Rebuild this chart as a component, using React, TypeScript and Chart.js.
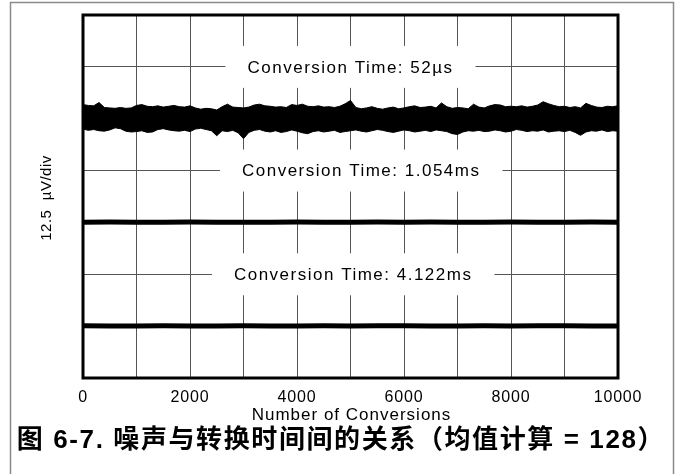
import React, { useEffect, useRef } from 'react';
import { Chart, registerables } from 'chart.js';

Chart.register(...registerables);

// ---- axes ----
const X_MIN = 0;
const X_MAX = 10000;
const X_STEP = 1000;
const X_TICK_LABELS = [0, 2000, 4000, 6000, 8000, 10000];
const X_TITLE = 'Number of Conversions';
const Y_MIN = 0;
const Y_MAX = 87.5;
const Y_STEP = 12.5;
const Y_TITLE = '12.5  µV/div';
const CAPTION = '图 6-7. 噪声与转换时间间的关系（均值计算 = 128）';

// ---- traces (µV) ----
const TRACE_LEVELS = [62.5, 37.5, 12.5];
const TRACE_LABELS = ['Conversion Time: 52µs', 'Conversion Time: 1.054ms', 'Conversion Time: 4.122ms'];
const LABEL_LEVELS = [75, 50, 25];
const LABEL_CENTERS = [5000, 5200, 5050];

// 52µs trace: upper / lower envelope deviations, one value every 100 conversions
const TOP_SAMPLE_STEP = 100;
const TOP_UPPER = [
  3.4, 3.2, 3.1, 3.9, 2.7, 2.6, 2.5, 2.7, 2.5, 2.6,
  3.2, 3.4, 3.0, 2.9, 3.1, 2.8, 3.0, 3.2, 2.9, 2.8,
  3.1, 2.6, 2.3, 2.5, 2.4, 2.1, 2.9, 3.5, 2.8, 2.7,
  2.6, 2.8, 3.3, 3.5, 3.1, 3.0, 2.8, 2.9, 2.7, 3.4,
  3.2, 3.5, 3.0, 2.9, 3.1, 2.8, 2.9, 2.7, 3.0, 3.6,
  4.4, 2.7, 2.4, 2.6, 2.9, 2.5, 2.3, 2.6, 2.8, 2.4,
  2.6, 2.9, 3.1, 2.7, 2.8, 3.0, 2.6, 3.8, 2.9, 2.5,
  2.7, 2.6, 2.4, 3.5, 2.8, 2.6, 3.1, 3.4, 3.3, 2.9,
  3.0, 2.9, 3.1, 2.8, 3.0, 3.3, 4.1, 3.6, 3.2, 2.9,
  3.0, 2.7, 2.9, 2.6, 3.7, 3.2, 2.8, 2.7, 3.0, 2.9,
  3.1,
];
const TOP_LOWER = [
  -2.5, -2.8, -2.6, -2.9, -3.0, -2.7, -2.2, -2.4, -3.0, -3.2,
  -3.1, -2.9, -3.3, -3.2, -2.6, -2.4, -2.7, -2.9, -3.0, -2.8,
  -3.1, -2.5, -2.3, -2.6, -2.9, -4.1, -2.9, -3.1, -2.8, -3.4,
  -4.8, -3.3, -2.8, -2.6, -3.0, -3.2, -2.9, -3.3, -3.1, -2.7,
  -3.0, -3.4, -3.6, -3.1, -2.9, -3.2, -3.0, -2.8, -3.3, -3.1,
  -2.9, -2.7, -3.0, -3.2, -2.9, -2.6, -2.8, -3.1, -3.3, -3.0,
  -2.7, -2.9, -3.2, -3.0, -2.8, -3.1, -2.7, -2.9, -3.1, -3.6,
  -3.8, -3.2, -2.9, -3.0, -2.8, -3.1, -3.0, -2.7, -2.9, -3.2,
  -3.0, -2.6, -2.8, -3.1, -2.9, -3.0, -2.7, -3.2, -3.0, -2.9,
  -3.1, -2.8, -3.3, -4.0, -3.2, -2.9, -3.0, -2.7, -3.1, -2.9,
  -3.0,
];

// 1.054ms and 4.122ms traces: deviations, one value every 500 conversions
const FLAT_SAMPLE_STEP = 500;
const MID_TRACE = [
  0.05, 0.08, 0.02, 0.06, 0.1, 0.04, 0.07, 0.03, 0.09, 0.05,
  0.06, 0.08, 0.04, 0.1, 0.07, 0.05, 0.09, 0.03, 0.06, 0.08, 0.05,
];
const BOTTOM_TRACE = [
  0.08, 0.06, 0.04, 0.07, 0.03, 0.05, 0.09, 0.06, 0.04, 0.08,
  0.05, 0.07, 0.1, 0.06, 0.04, 0.08, 0.05, 0.09, 0.07, 0.06, 0.04,
];

const LATIN = '"Liberation Sans", Arial, sans-serif';

const toPoints = (vals: number[], step: number, level: number) =>
  vals.map((v, i) => ({ x: i * step, y: level + v }));

const decorPlugin = {
  id: 'decor',
  beforeDraw(chart: any) {
    const ctx = chart.ctx;
    ctx.save();
    ctx.fillStyle = '#fff';
    ctx.fillRect(0, 0, chart.width, chart.height);
    ctx.strokeStyle = '#8a8a8a';
    ctx.lineWidth = 1.5;
    ctx.beginPath();
    ctx.moveTo(10.5, chart.height + 5);
    ctx.lineTo(10.5, 2.5);
    ctx.lineTo(673.5, 2.5);
    ctx.lineTo(673.5, chart.height + 5);
    ctx.stroke();
    ctx.restore();
    // slightly wider glyph spacing for the axis tick labels drawn next
    (ctx as any).letterSpacing = '0.8px';
  },
  afterDatasetsDraw(chart: any) {
    const ctx = chart.ctx;
    const { left, right, top, bottom } = chart.chartArea;
    const xs = chart.scales.x;
    const ys = chart.scales.y;
    ctx.save();
    ctx.font = '17px ' + LATIN;
    (ctx as any).letterSpacing = '1.5px';
    ctx.textAlign = 'center';
    ctx.textBaseline = 'middle';
    TRACE_LABELS.forEach((t, i) => {
      const cx = xs.getPixelForValue(LABEL_CENTERS[i]);
      const cy = ys.getPixelForValue(LABEL_LEVELS[i]);
      const w = ctx.measureText(t).width;
      ctx.fillStyle = '#fff';
      ctx.fillRect(cx - w / 2 - 22, cy - 21, w + 44, 42);
      ctx.fillStyle = '#000';
      ctx.fillText(t, cx, cy + 1);
    });
    ctx.restore();

    ctx.save();
    ctx.strokeStyle = '#000';
    ctx.lineWidth = 3;
    ctx.strokeRect(left, top, right - left, bottom - top);
    ctx.restore();
  },
  afterDraw(chart: any) {
    const ctx = chart.ctx;
    const { left, right } = chart.chartArea;
    ctx.save();
    ctx.fillStyle = '#000';
    ctx.textAlign = 'center';
    ctx.textBaseline = 'middle';
    ctx.font = '17px ' + LATIN;
    (ctx as any).letterSpacing = '1px';
    ctx.fillText(X_TITLE, (left + right) / 2 + 1, 415);
    ctx.save();
    ctx.translate(47, 198);
    ctx.rotate(-Math.PI / 2);
    ctx.font = '15px ' + LATIN;
    (ctx as any).letterSpacing = '0.5px';
    ctx.fillText(Y_TITLE, 0, 0);
    ctx.restore();
    ctx.font = 'bold 26px "Liberation Sans", "Noto Sans CJK SC", sans-serif';
    (ctx as any).letterSpacing = '1.6px';
    ctx.fillText(CAPTION, 341, 441);
    ctx.restore();
    (ctx as any).letterSpacing = '0px';
  },
};

export default function App() {
  const ref = useRef<HTMLCanvasElement | null>(null);
  useEffect(() => {
    document.body.style.margin = '0';
    if (!ref.current) return;
    const chart = new Chart(ref.current, {
      type: 'line',
      data: {
        datasets: [
          {
            data: toPoints(TOP_UPPER, TOP_SAMPLE_STEP, TRACE_LEVELS[0]),
            borderColor: '#000',
            backgroundColor: '#000',
            borderWidth: 1,
            pointRadius: 0,
            fill: '+1',
            tension: 0,
          },
          {
            data: toPoints(TOP_LOWER, TOP_SAMPLE_STEP, TRACE_LEVELS[0]),
            borderColor: '#000',
            borderWidth: 1,
            pointRadius: 0,
            fill: false,
            tension: 0,
          },
          {
            data: toPoints(MID_TRACE, FLAT_SAMPLE_STEP, TRACE_LEVELS[1]),
            borderColor: '#000',
            borderWidth: 5,
            pointRadius: 0,
            fill: false,
          },
          {
            data: toPoints(BOTTOM_TRACE, FLAT_SAMPLE_STEP, TRACE_LEVELS[2]),
            borderColor: '#000',
            borderWidth: 5,
            pointRadius: 0,
            fill: false,
          },
        ],
      },
      options: {
        responsive: false,
        animation: false,
        layout: { padding: { left: 83, right: 60, top: 15, bottom: 0 } },
        plugins: { legend: { display: false }, tooltip: { enabled: false } },
        scales: {
          x: {
            type: 'linear',
            min: X_MIN,
            max: X_MAX,
            border: { display: false },
            grid: { color: '#555', lineWidth: 1, drawTicks: false },
            ticks: {
              stepSize: X_STEP,
              autoSkip: false,
              maxRotation: 0,
              color: '#000',
              padding: 10,
              font: { family: LATIN, size: 16 },
              callback: (v: any) => (X_TICK_LABELS.includes(Number(v)) ? String(v) : ''),
            },
            afterFit: (s: any) => {
              s.height = 96;
            },
          },
          y: {
            type: 'linear',
            min: Y_MIN,
            max: Y_MAX,
            border: { display: false },
            grid: { color: '#555', lineWidth: 1, drawTicks: false },
            ticks: { stepSize: Y_STEP, display: false },
            afterFit: (s: any) => {
              s.width = 0;
            },
          },
        },
      },
      plugins: [decorPlugin],
    });
    return () => chart.destroy();
  }, []);
  return (
    <div style={{ width: 678, height: 474, position: 'relative' }}>
      <canvas ref={ref} width={678} height={474} style={{ width: 678, height: 474, display: 'block' }} />
    </div>
  );
}
